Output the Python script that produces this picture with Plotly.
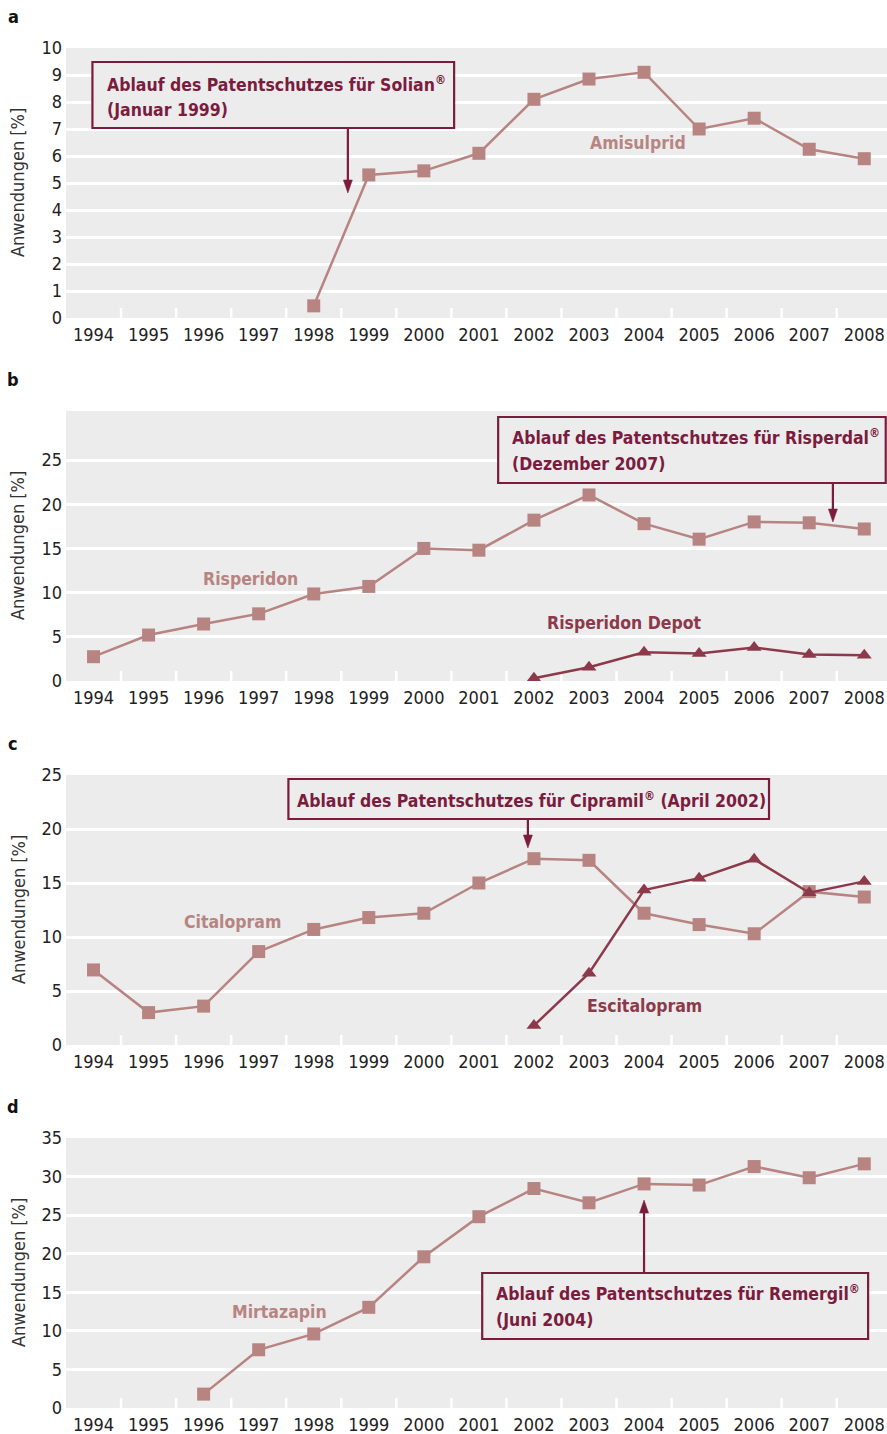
import plotly.graph_objects as go

# ---------------- data ----------------
years = list(range(1994, 2009))
year_labels = [str(y) for y in years]

amisulprid = [None, None, None, None, 0.45, 5.3, 5.45, 6.1, 8.1, 8.85, 9.1, 7.0, 7.4, 6.25, 5.9]
risperidon = [2.75, 5.2, 6.45, 7.6, 9.85, 10.7, 15.0, 14.8, 18.2, 21.05, 17.8, 16.05, 18.0, 17.9, 17.2]
risperidon_depot = [None, None, None, None, None, None, None, None, 0.3, 1.55, 3.25, 3.1, 3.8, 3.0, 2.9]
citalopram = [6.95, 3.0, 3.6, 8.65, 10.7, 11.8, 12.2, 15.0, 17.25, 17.1, 12.2, 11.15, 10.3, 14.2, 13.7]
escitalopram = [None, None, None, None, None, None, None, None, 1.8, 6.65, 14.35, 15.45, 17.2, 14.1, 15.15]
mirtazapin = [None, None, 1.8, 7.55, 9.6, 13.05, 19.6, 24.8, 28.45, 26.6, 29.05, 28.9, 31.3, 29.85, 31.65]

panel_letters = ["a", "b", "c", "d"]
y_ranges = [[0, 10], [0, 30.55], [0, 25], [0, 35]]
y_ticks = [list(range(0, 11)), list(range(0, 26, 5)), list(range(0, 26, 5)), list(range(0, 36, 5))]

# ---------------- style ----------------
W, H = 887, 1434
ML = 66
PW = W - ML
FONT = "DejaVu Sans Condensed, DejaVu Sans, sans-serif"
BG = "#ebeceb"
ROSE = "#b88482"
DARK = "#8c3a4b"
MAROON = "#7b1c3f"
TXT = "#222222"
tops = [48, 411, 775, 1138]
PH = 270
XR = [1993.5, 2008.413]
PX_PER_YEAR = PW / (XR[1] - XR[0])


def py(p):
    """pixel row -> paper y"""
    return 1 - p / H


def ax(i):
    return ("x" if i == 0 else f"x{i+1}"), ("y" if i == 0 else f"y{i+1}")


fig = go.Figure()

series = [
    [(amisulprid, ROSE, "square", 13)],
    [(risperidon, ROSE, "square", 13), (risperidon_depot, DARK, "triangle-up", 13)],
    [(citalopram, ROSE, "square", 13), (escitalopram, DARK, "triangle-up", 13)],
    [(mirtazapin, ROSE, "square", 13)],
]

shapes = []
annotations = []
layout_axes = {}

for i in range(4):
    xa, ya = ax(i)
    for vals, col, sym, sz in series[i]:
        fig.add_trace(go.Scatter(
            x=years, y=vals, xaxis=xa, yaxis=ya, mode="lines+markers",
            line=dict(color=col, width=2.5),
            marker=dict(symbol=sym, size=sz, color=col),
            showlegend=False, hoverinfo="skip"))
    top = tops[i]
    dom = [1 - (top + PH) / H, 1 - top / H]
    xkey = "xaxis" if i == 0 else f"xaxis{i+1}"
    ykey = "yaxis" if i == 0 else f"yaxis{i+1}"
    layout_axes[xkey] = dict(
        domain=[0, 1], anchor=ya, range=XR, tickvals=years, ticktext=year_labels,
        showgrid=False, zeroline=False, showline=False, ticks="", automargin=False,
        ticklabeloverflow="allow", ticklabelstandoff=4,
        tickfont=dict(family=FONT, size=18, color=TXT), fixedrange=True)
    layout_axes[ykey] = dict(
        domain=dom, anchor=xa, range=y_ranges[i], tickvals=y_ticks[i],
        showgrid=True, gridcolor="white", gridwidth=2.5, zeroline=False,
        showline=False, ticks="", ticklabelstandoff=3, automargin=False,
        tickfont=dict(family=FONT, size=18, color=TXT), fixedrange=True)
    # white separators at bottom between categories
    for y in years[:-1]:
        shapes.append(dict(type="line", xref=xa, yref="paper",
                           x0=y + 0.5, x1=y + 0.5, y0=py(top + PH), y1=py(top + PH - 10),
                           line=dict(color="white", width=2.5), layer="below"))
    # panel letter
    annotations.append(dict(text=f"<b>{panel_letters[i]}</b>", xref="paper", yref="paper",
                            x=(13 - ML) / PW, y=py(top - 32), showarrow=False,
                            font=dict(family=FONT, size=18, color="#111"),
                            xanchor="center", yanchor="middle"))
    # y title
    annotations.append(dict(text="Anwendungen [%]", xref="paper", yref="paper",
                            x=(18 - ML) / PW, y=py(top + PH / 2), showarrow=False,
                            textangle=-90, font=dict(family=FONT, size=18, color="#333"),
                            xanchor="center", yanchor="middle"))

# annotation boxes: panel, box x0/x1 (years), box top/bottom (px rows), text lines (text, row),
# text x (year), arrow x (year), arrow tail row, arrow head row
boxes = [
    (0, 1993.98, 2000.55, 62, 128,
     [("Ablauf des Patentschutzes für Solian<sup>®</sup>", 84), ("(Januar 1999)", 110)],
     1994.21, 1998.62, 128, 193),
    (1, 2001.35, 2008.39, 417, 483,
     [("Ablauf des Patentschutzes für Risperdal<sup>®</sup>", 437), ("(Dezember 2007)", 464)],
     2001.57, 2007.43, 483, 522),
    (2, 1997.54, 2006.27, 779, 819,
     [("Ablauf des Patentschutzes für Cipramil<sup>®</sup> (April 2002)", 800)],
     1997.66, 2001.89, 819, 848),
    (3, 2001.06, 2008.07, 1273, 1339,
     [("Ablauf des Patentschutzes für Remergil<sup>®</sup>", 1293), ("(Juni 2004)", 1320)],
     2001.28, 2004.0, 1273, 1200),
]
HEAD_LEN = 13
HEAD_HALF = 4.5 / PX_PER_YEAR
for (p, x0, x1, top_px, bot_px, lines, tx, axx, tail, head) in boxes:
    xa, ya = ax(p)
    shapes.append(dict(type="rect", xref=xa, yref="paper", x0=x0, x1=x1,
                       y0=py(bot_px), y1=py(top_px),
                       fillcolor=BG, line=dict(color=MAROON, width=2.2), layer="above"))
    for (txt, row) in lines:
        annotations.append(dict(text=f"<b>{txt}</b>", xref=xa, yref="paper", x=tx, y=py(row),
                                xanchor="left", yanchor="middle", align="left", showarrow=False,
                                font=dict(family=FONT, size=17.5, color=MAROON)))
    # arrow: shaft + filled head
    direction = 1 if head > tail else -1
    base = head - direction * HEAD_LEN
    shapes.append(dict(type="line", xref=xa, yref="paper", x0=axx, x1=axx,
                       y0=py(tail), y1=py(base + direction * 2),
                       line=dict(color=MAROON, width=2.2), layer="above"))
    shapes.append(dict(type="path", xref=xa, yref="paper",
                       path=(f"M {axx - HEAD_HALF},{py(base)} L {axx + HEAD_HALF},{py(base)} "
                             f"L {axx},{py(head)} Z"),
                       fillcolor=MAROON, line=dict(color=MAROON, width=0.5), layer="above"))

# series labels
labels = [
    (0, "Amisulprid", 2003.89, 6.48, ROSE),
    (1, "Risperidon", 1996.86, 11.54, ROSE),
    (1, "Risperidon Depot", 2003.64, 6.56, DARK),
    (2, "Citalopram", 1996.52, 11.39, ROSE),
    (2, "Escitalopram", 2004.0, 3.61, DARK),
    (3, "Mirtazapin", 1997.37, 12.44, ROSE),
]
for (p, t, x, y, c) in labels:
    xa, ya = ax(p)
    annotations.append(dict(text=f"<b>{t}</b>", xref=xa, yref=ya, x=x, y=y, showarrow=False,
                            xanchor="center", yanchor="middle",
                            font=dict(family=FONT, size=17.5, color=c)))

fig.update_layout(
    width=W, height=H, margin=dict(l=ML, r=0, t=0, b=0, autoexpand=False),
    paper_bgcolor="white", plot_bgcolor=BG,
    font=dict(family=FONT, color=TXT),
    shapes=shapes, annotations=annotations, **layout_axes)

fig.write_html("out.html")
